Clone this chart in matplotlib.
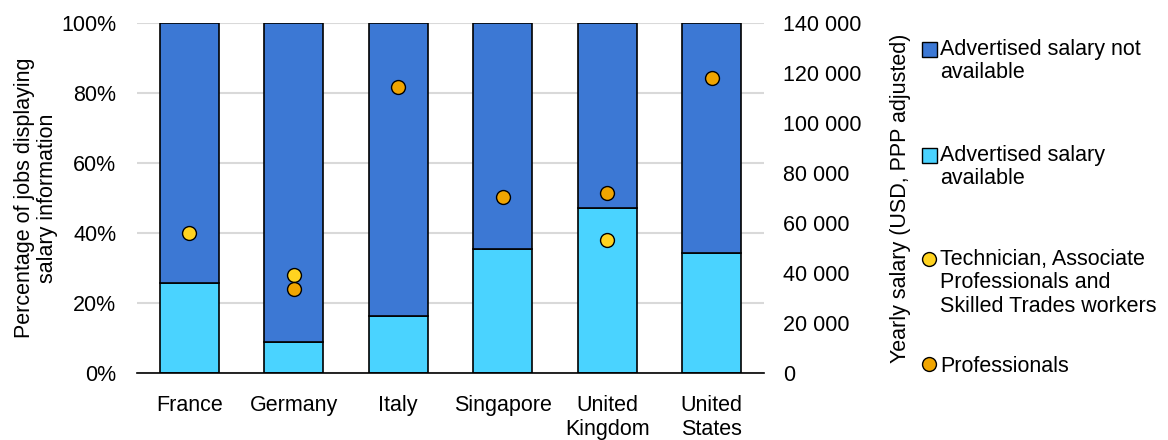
import matplotlib.pyplot as plt
from matplotlib.lines import Line2D
from matplotlib.patches import Patch, Rectangle
from matplotlib.legend_handler import HandlerLine2D, HandlerPatch
from matplotlib.ticker import FuncFormatter

plt.rcParams["font.family"] = ["Liberation Sans", "DejaVu Sans"]
plt.rcParams["font.size"] = 15.5

countries = ["France", "Germany", "Italy", "Singapore", "United\nKingdom", "United\nStates"]
# share of postings (%) showing an advertised salary
available = [25.7, 8.9, 16.3, 35.4, 47.1, 34.3]
not_available = [100 - v for v in available]
# yearly salaries, USD PPP adjusted (None = not shown)
technicians = [56000, 39200, None, None, 53200, None]
professionals = [None, 33600, 114400, 70400, 72000, 118000]

dark_blue = "#3C78D4"
light_blue = "#4AD3FF"
yellow = "#FFD320"
orange = "#F0A500"

fig = plt.figure(figsize=(11.68, 4.4), dpi=100)
ax = fig.add_axes([0.1173, 0.1523, 0.5368, 0.7954])
x = list(range(len(countries)))

ax.bar(x, available, width=0.565, color=light_blue, edgecolor="black", linewidth=1.2, zorder=2)
ax.bar(x, not_available, bottom=available, width=0.565, color=dark_blue,
       edgecolor="black", linewidth=1.2, zorder=2)
ax.set_ylim(0, 100)
ax.set_xlim(-0.5, 5.5)
ax.set_yticks(range(0, 101, 20))
ax.yaxis.set_major_formatter(FuncFormatter(lambda v, p: f"{v:.0f}%"))
ax.set_xticks(x)
ax.set_xticklabels(countries, linespacing=1.15)
ax.grid(axis="y", color="#d9d9d9", linewidth=1.5, zorder=0)
ax.set_axisbelow(True)
for s in ["left", "right", "top"]:
    ax.spines[s].set_visible(False)
ax.spines["bottom"].set_linewidth(1.2)
ax.tick_params(axis="y", length=0, pad=15)
ax.tick_params(axis="x", length=0, pad=16)
ax.set_ylabel("Percentage of jobs displaying\nsalary information", linespacing=1.15, labelpad=2)

ax2 = ax.twinx()
ax2.set_ylim(0, 140000)
ax2.set_yticks(range(0, 140001, 20000))
ax2.yaxis.set_major_formatter(FuncFormatter(lambda v, p: f"{int(v):,}".replace(",", " ")))
for s in ["left", "right", "top", "bottom"]:
    ax2.spines[s].set_visible(False)
ax2.tick_params(axis="y", length=0, pad=14)
ax2.set_ylabel("Yearly salary (USD, PPP adjusted)", labelpad=20)

tx = [i for i, v in zip(x, technicians) if v is not None]
ty = [v for v in technicians if v is not None]
px = [i for i, v in zip(x, professionals) if v is not None]
py = [v for v in professionals if v is not None]
ax2.plot(tx, ty, "o", color=yellow, markeredgecolor="black", markeredgewidth=1.0, ms=10, zorder=3)
ax2.plot(px, py, "o", color=orange, markeredgecolor="black", markeredgewidth=1.0, ms=10, zorder=3)


# legend handles sit next to the first line of a multi-line label
class TopLine(HandlerLine2D):
    def __init__(self, shift, **kw):
        super().__init__(**kw)
        self.shift = shift

    def create_artists(self, legend, orig, xd, yd, w, h, fontsize, trans):
        arts = super().create_artists(legend, orig, xd, yd, w, h, fontsize, trans)
        for a in arts:
            a.set_ydata([y + self.shift for y in a.get_ydata()])
        return arts


def top_patch(shift):
    def make(legend, orig_handle, xdescent, ydescent, width, height, fontsize):
        return Rectangle((-xdescent, -ydescent + shift), width, height)
    return HandlerPatch(patch_func=make)


line_h = 15.5 * 1.15
entries = [
    (Patch(facecolor=dark_blue, edgecolor="black"), "Advertised salary not\navailable", 50),
    (Patch(facecolor=light_blue, edgecolor="black"), "Advertised salary\navailable", 156),
    (Line2D([], [], marker="o", ls="", color=yellow, markeredgecolor="black", ms=10),
     "Technician, Associate\nProfessionals and\nSkilled Trades workers", 260),
    (Line2D([], [], marker="o", ls="", color=orange, markeredgecolor="black", ms=10),
     "Professionals", 367),
]
for h, lab, ypix in entries:
    n = lab.count("\n")
    shift = n * line_h / 2
    hmap = {h: top_patch(shift) if isinstance(h, Patch) else TopLine(shift)}
    leg = fig.legend([h], [lab], loc="upper left", bbox_to_anchor=(0.789, 1 - (ypix - 11) / 440),
                     frameon=False, handlelength=0.7, handleheight=0.7, handletextpad=0.15,
                     borderaxespad=0, borderpad=0, handler_map=hmap)
    for t in leg.get_texts():
        t.set_linespacing(1.15)

fig.savefig("out.png", dpi=100)
